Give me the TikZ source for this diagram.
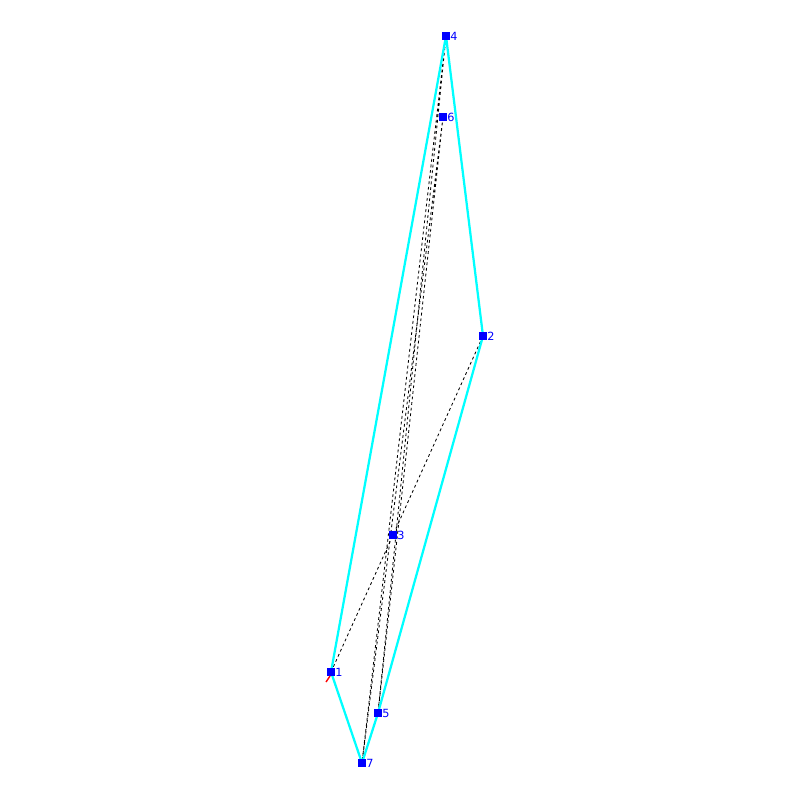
\documentclass[tikz,border=0pt]{standalone}
\usepackage{fontspec}
\setmainfont{DejaVu Sans}
\definecolor{hullcyan}{RGB}{0,255,255}
\definecolor{ptblue}{RGB}{0,0,255}
\begin{document}
\begin{tikzpicture}[x=0.025cm,y=-0.025cm,>=latex,
    pt/.style={fill=ptblue,minimum size=2mm,inner sep=0pt,label={[text=ptblue,font=\fontsize{8}{9}\selectfont,xshift=-1.2mm]right:#1}},
    hull/.style={hullcyan,line width=1.6pt,line join=round},
    inner/.style={black,line width=0.6pt,dash pattern=on 2pt off 2pt}]
\useasboundingbox (0,0) rectangle (800,800);
\node[pt=1] (p1) at (331,672){};
\node[pt=2] (p2) at (483,336){};
\node[pt=3] (p3) at (393,535){};
\node[pt=4] (p4) at (446,36){};
\node[pt=5] (p5) at (378,713){};
\node[pt=6] (p6) at (443,117){};
\node[pt=7] (p7) at (362,763){};
\draw[inner] (p1.center)--(p3.center)--(p2.center);
\draw[inner] (p4.center)--(p7.center) (p4.center)--(p5.center);
\draw[inner] (p6.center)--(p7.center) (p6.center)--(p5.center);
\draw[hull] (p1.center)--(p4.center)--(p2.center)--(p5.center)--(p7.center)--cycle;
\foreach \i in {1,...,7} \fill[ptblue] (p\i.south west) rectangle (p\i.north east);
\coordinate (ax0) at (330,676);
\coordinate (ax) at (326,682);
\draw[red,line width=1pt] (ax0)--(ax);
\end{tikzpicture}
\end{document}
